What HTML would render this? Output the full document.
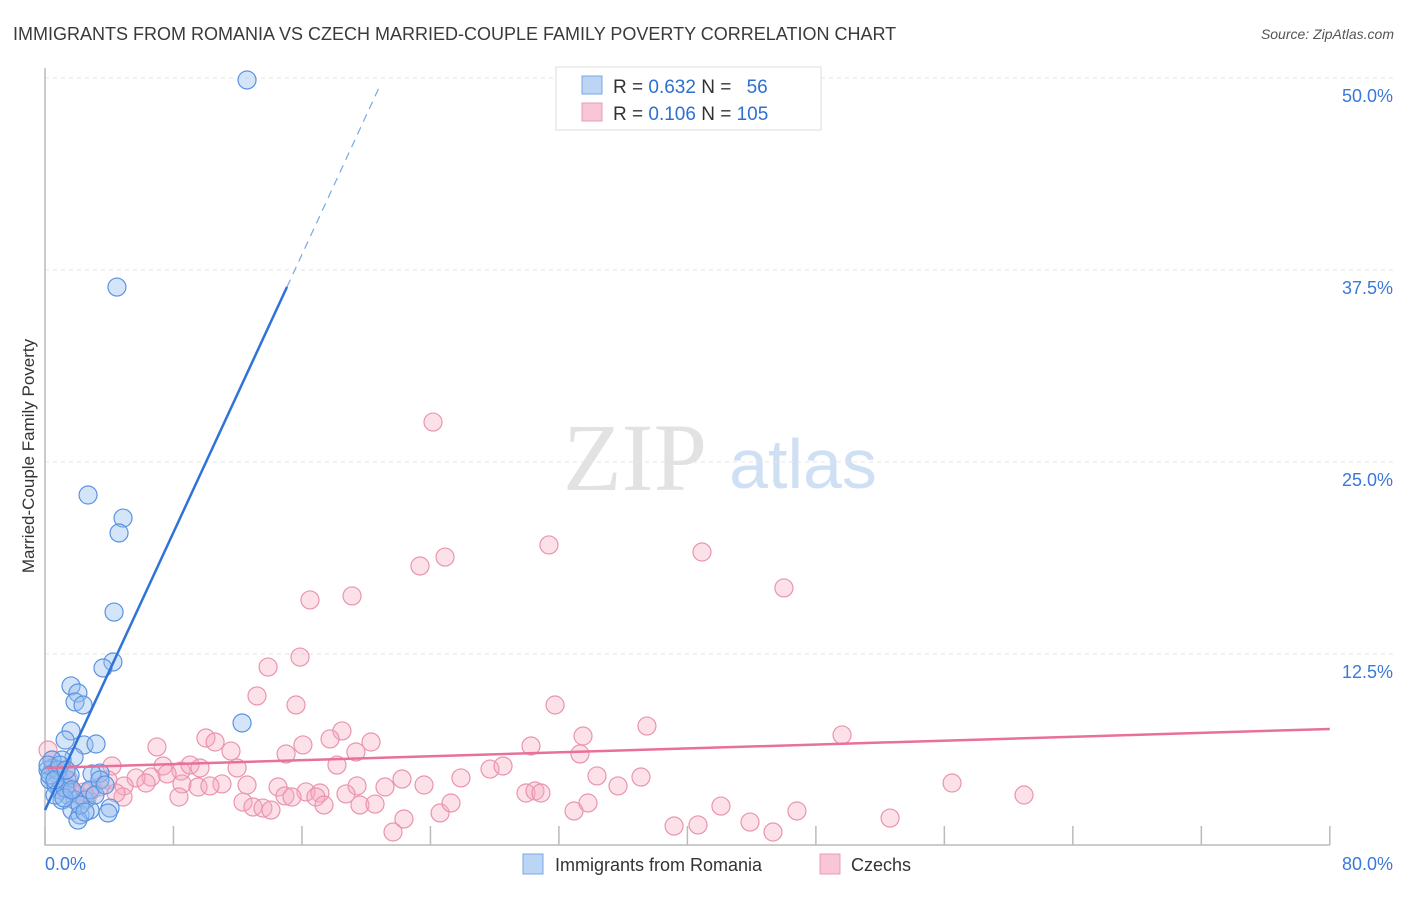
<!DOCTYPE html>
<html><head><meta charset="utf-8"><style>
body{margin:0;background:#fff;font-family:"Liberation Sans",sans-serif}
</style></head><body>
<svg width="1406" height="892" xmlns="http://www.w3.org/2000/svg" font-family="Liberation Sans, sans-serif">
<text x="13" y="40" font-size="18" fill="#3a3a3a">IMMIGRANTS FROM ROMANIA VS CZECH MARRIED-COUPLE FAMILY POVERTY CORRELATION CHART</text>
<text x="1394" y="39" font-size="14" fill="#555" font-style="italic" text-anchor="end">Source: ZipAtlas.com</text>
<g>
<text x="635" y="490" font-size="96" fill="#e2e2e2" font-family="Liberation Serif, serif" text-anchor="middle">ZIP</text>
<text x="803" y="488" font-size="70" fill="#cfe0f5" text-anchor="middle">atlas</text>
</g>
<g id="grid"></g>
<g id="axes"></g>
<g id="marks"></g>
<text transform="translate(34,456) rotate(-90)" font-size="17" fill="#333" text-anchor="middle">Married-Couple Family Poverty</text>
<g>
<rect x="556" y="67" width="265" height="63" fill="#fff" stroke="#ddd"/>
<rect x="582" y="76" width="20" height="18" fill="#bcd5f5" stroke="#7aa7e3"/>
<rect x="582" y="103" width="20" height="18" fill="#f8c6d4" stroke="#ec9bb4"/>
<text x="613" y="93" font-size="19" fill="#333">R = <tspan fill="#2f6fd1">0.632</tspan>   N = <tspan fill="#2f6fd1" dx="10">56</tspan></text>
<text x="613" y="120" font-size="19" fill="#333">R = <tspan fill="#2f6fd1">0.106</tspan>   N = <tspan fill="#2f6fd1">105</tspan></text>
</g>
<g>
<rect x="523" y="854" width="20" height="20" fill="#bcd5f5" stroke="#7aa7e3"/>
<text x="555" y="871" font-size="18" fill="#333">Immigrants from Romania</text>
<rect x="820" y="854" width="20" height="20" fill="#f8c6d4" stroke="#ec9bb4"/>
<text x="851" y="871" font-size="18" fill="#333">Czechs</text>
</g>
</svg>
<script>
const yTicks=[12.5,25,37.5,50];
const yTickLabels=["12.5%","25.0%","37.5%","50.0%"];
const xTickVals=[0,8,16,24,32,40,48,56,64,72,80];
const xLabels=["0.0%","80.0%"];
const blueX=[12.58,4.48,2.68,4.86,4.61,4.30,4.23,3.61,1.62,2.05,1.87,2.37,1.62,1.25,2.43,3.18,1.81,1.06,3.42,2.93,0.50,0.81,0.19,0.31,0.68,1.37,0.93,1.43,1.87,2.49,1.06,1.68,2.18,2.80,4.05,3.92,2.05,12.27,0.44,0.62,1.25,0.19,0.81,1.56,2.80,2.18,3.42,1.18,2.49,1.68,0.31,0.93,3.11,3.74,0.62,1.31];
const blueY=[49.87,36.39,22.85,21.35,20.38,15.23,11.98,11.59,10.42,9.96,9.38,9.18,7.49,6.90,6.58,6.64,5.79,5.60,4.75,4.69,5.08,4.62,4.95,4.30,3.97,4.30,3.65,3.32,2.99,2.99,2.99,2.34,2.02,2.34,2.47,2.15,1.69,8.01,5.60,3.32,3.78,5.27,4.95,4.62,3.65,2.67,4.30,3.13,2.21,3.65,4.62,5.27,3.32,3.97,4.30,4.95];
const pinkX=[24.16,31.38,24.91,23.35,40.91,46.01,16.50,19.12,15.88,13.89,13.20,15.63,31.76,37.48,49.63,33.50,18.49,17.75,20.30,10.02,10.59,6.97,11.58,16.06,15.01,19.36,30.26,33.31,18.18,11.96,7.35,8.47,7.60,9.03,9.65,4.17,6.60,5.67,6.29,3.92,4.92,2.93,3.42,11.02,8.53,9.53,10.27,12.58,14.51,16.25,17.12,19.43,21.17,22.23,23.60,25.90,27.71,28.52,34.37,37.11,56.48,60.96,35.68,29.95,30.51,30.88,8.34,4.86,4.42,1.49,0.93,1.99,2.62,2.43,12.33,12.95,13.57,14.07,14.94,15.38,16.87,17.37,18.74,19.61,20.55,24.60,25.28,22.35,21.67,32.94,33.81,42.09,43.90,45.33,46.82,39.17,40.66,52.62,0.19,0.44,0.68,1.06,1.31,1.56];
const pinkY=[27.60,19.60,18.81,18.23,19.14,16.80,16.02,16.28,12.30,11.65,9.77,9.18,9.18,7.81,7.23,7.16,7.49,6.97,6.77,7.03,6.77,6.45,6.18,6.58,5.99,6.12,6.51,5.99,5.27,5.08,5.21,4.88,4.69,5.27,5.08,5.21,4.49,4.43,4.10,4.30,3.91,3.65,3.84,4.04,4.04,3.84,3.91,3.97,3.84,3.52,3.45,3.91,3.84,4.36,3.97,4.43,5.01,5.21,4.56,4.49,4.10,3.32,3.91,3.45,3.58,3.45,3.19,3.19,3.45,4.30,3.65,3.32,3.13,3.52,2.86,2.54,2.47,2.34,3.26,3.19,3.19,2.67,3.39,2.67,2.73,2.15,2.80,1.76,0.91,2.28,2.80,2.60,1.56,0.91,2.28,1.30,1.37,1.82,6.25,5.60,4.95,4.30,4.95,3.78];
const blueTrend=[[0,2.34],[15.07,36.4],[20.9,49.6]];
const pinkTrend=[[0,5.08],[80,7.62]];
const NS="http://www.w3.org/2000/svg";
const sx=v=>45+v*16.06, sy=v=>846-v*15.36;
function mk(t,a,p){const e=document.createElementNS(NS,t);for(const k in a)e.setAttribute(k,a[k]);p.appendChild(e);return e;}
const grid=document.getElementById('grid'),axes=document.getElementById('axes'),marks=document.getElementById('marks');
yTicks.forEach((v,i)=>{
 const l=mk('line',{x1:45,x2:1393,y1:sy(v),y2:sy(v),stroke:'#e4e4e4','stroke-dasharray':'4,4'},grid);
 
 
 const t=mk('text',{x:1393,y:sy(v)+24,'font-size':18,fill:'#3b78d8','text-anchor':'end'},axes);
 t.textContent=yTickLabels[i];
 
 
});
const ax=mk('path',{d:'M45,68 V845 H1330',fill:'none',stroke:'#bbb','stroke-width':1.5},axes);


xTickVals.forEach(v=>{
 const l=mk('line',{x1:sx(v),x2:sx(v),y1:826,y2:845,stroke:'#bbb','stroke-width':1.5},axes);
 
 
});
[[0,'start',45],[80,'end',1393]].forEach((d,i)=>{
 const t=mk('text',{x:d[2],y:870,'font-size':18,fill:'#3b78d8','text-anchor':d[1]},axes);
 t.textContent=xLabels[i];
 
 
});
pinkX.forEach((x,i)=>{
 const c=mk('circle',{cx:sx(x),cy:sy(pinkY[i]),r:9,fill:'rgba(245,170,192,0.35)',stroke:'#ea94ae','stroke-width':1.2},marks);
 
 
});
blueX.forEach((x,i)=>{
 const c=mk('circle',{cx:sx(x),cy:sy(blueY[i]),r:9,fill:'rgba(150,190,240,0.4)',stroke:'#5a93e0','stroke-width':1.2},marks);
 
 
});
const pl=mk('line',{x1:sx(pinkTrend[0][0]),y1:sy(pinkTrend[0][1]),x2:sx(pinkTrend[1][0]),y2:sy(pinkTrend[1][1]),stroke:'#e8709a','stroke-width':2.5},marks);


const bl=mk('line',{x1:sx(blueTrend[0][0]),y1:sy(blueTrend[0][1]),x2:sx(blueTrend[1][0]),y2:sy(blueTrend[1][1]),stroke:'#2f72d8','stroke-width':2.5},marks);


const bd=mk('line',{x1:sx(blueTrend[1][0]),y1:sy(blueTrend[1][1]),x2:sx(blueTrend[2][0]),y2:sy(blueTrend[2][1]),stroke:'#7aa7e3','stroke-width':1.2,'stroke-dasharray':'8,6'},marks);


</script>
</body></html>
